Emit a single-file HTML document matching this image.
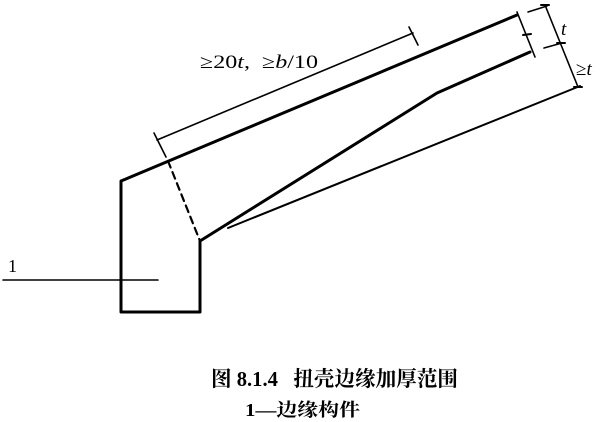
<!DOCTYPE html>
<html><head><meta charset="utf-8"><style>
html,body{margin:0;padding:0;background:#fff;width:603px;height:422px;overflow:hidden}
svg{display:block}
text{white-space:pre}
</style></head><body>
<svg width="603" height="422" viewBox="0 0 603 422" xmlns="http://www.w3.org/2000/svg">
<g fill="none" stroke="#000" stroke-linecap="round" stroke-linejoin="round">
<polyline points="517,15 121,181 121,312 200,312 200,241 437,93 530,52" stroke-width="3"/>
<line x1="168" y1="161" x2="200" y2="241" stroke-width="2.2" stroke-dasharray="7,5"/>
<line x1="228" y1="228" x2="580" y2="86" stroke-width="2"/>
<line x1="3" y1="280" x2="158" y2="280" stroke-width="1.6"/>
<line x1="157" y1="140" x2="413" y2="33" stroke-width="1.6"/>
<line x1="154" y1="133" x2="166" y2="157" stroke-width="1.6"/>
<line x1="409" y1="27" x2="418" y2="45" stroke-width="1.6"/>
<line x1="517" y1="12" x2="535" y2="57" stroke-width="1.6"/>
<line x1="523" y1="35" x2="531" y2="34" stroke-width="2"/>
<line x1="528" y1="12" x2="547" y2="6" stroke-width="1.6"/>
<line x1="544" y1="48" x2="562" y2="43" stroke-width="1.6"/>
<line x1="545" y1="5" x2="578" y2="87" stroke-width="1.6"/>
<line x1="541" y1="5" x2="549" y2="5" stroke-width="2"/>
<line x1="557" y1="43" x2="565" y2="43" stroke-width="2"/>
<line x1="574" y1="87" x2="582" y2="87" stroke-width="2"/>
</g>
<g font-family="'Liberation Serif','Noto Serif CJK SC',serif" fill="#000">
<text x="200" y="68" font-size="19" textLength="118" lengthAdjust="spacingAndGlyphs">≥20<tspan font-style="italic">t</tspan>,  ≥<tspan font-style="italic">b</tspan>/10</text>
<text x="561" y="35" font-size="19" font-style="italic">t</text>
<text x="576" y="75" font-size="19">≥<tspan font-style="italic">t</tspan></text>
<text x="8" y="272" font-size="18">1</text>
<text x="211" y="386" font-size="21" font-weight="bold" textLength="247" lengthAdjust="spacingAndGlyphs">图 8.1.4   扭壳边缘加厚范围</text>
<text x="245" y="416" font-size="18" font-weight="bold" textLength="115" lengthAdjust="spacingAndGlyphs">1—边缘构件</text>
</g>
</svg>
</body></html>
